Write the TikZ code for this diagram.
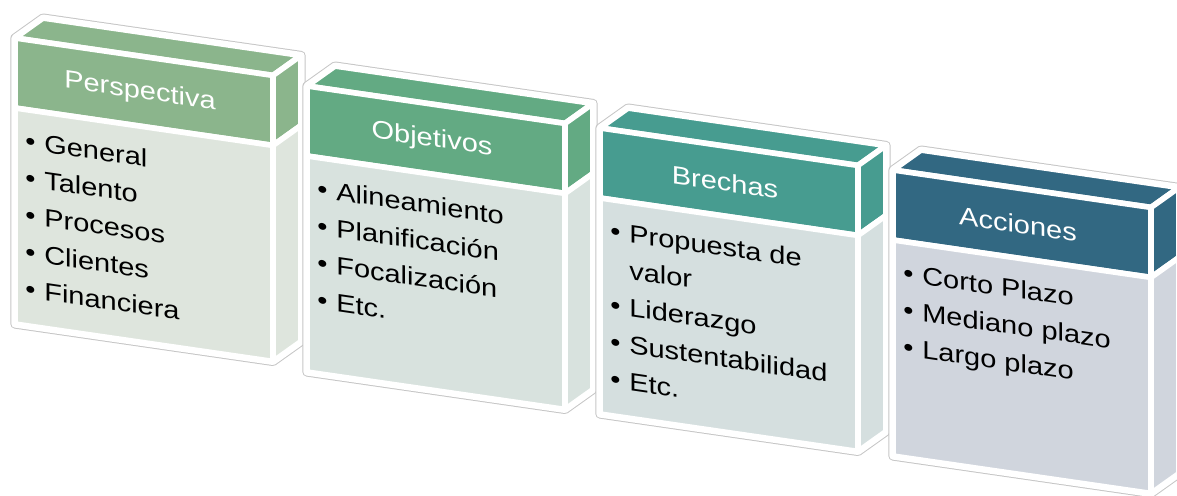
\documentclass[tikz,border=0pt]{standalone}
\usepackage{fontspec}
\setmainfont{Liberation Sans}
\definecolor{cabA}{RGB}{139,181,140}
\definecolor{cabB}{RGB}{99,170,131}
\definecolor{cabC}{RGB}{71,156,144}
\definecolor{cabD}{RGB}{50,104,130}
\definecolor{cueA}{RGB}{222,229,221}
\definecolor{cueB}{RGB}{216,226,222}
\definecolor{cueC}{RGB}{213,223,223}
\definecolor{cueD}{RGB}{208,213,221}
\tikzset{
  every picture/.style={line join=round},
  marco/.style={shift={#1}, yslant=-0.145},
  cara/.style={draw=white, line width=2.8pt},
  titulo/.style={text=white, font=\fontsize{12.6}{15}\selectfont, xscale=1.15, transform shape},
  punto/.style={anchor=base west, inner sep=0pt, text height=6pt, text depth=0pt,
    font=\fontsize{12.6}{15}\selectfont, xscale=1.15, transform shape},
}
\newcommand{\vi}{\makebox[8.2pt][l]{\textbullet}}
\newcommand{\sv}{\hspace*{8.2pt}}
% caja 3D: #1 posicion, #2 cabecera, #3 cuerpo
\newcommand{\caja}[3]{%
  \begin{scope}[marco={#1}]
    \draw[gray!45, line width=4.6pt] (0,286) -- (0,0) -- (28,-24) -- (286,-24) -- (286,262) -- (258,286) -- cycle;
    \draw[white, line width=3.6pt] (0,286) -- (0,0) -- (28,-24) -- (286,-24) -- (286,262) -- (258,286) -- cycle;
    \filldraw[cara, fill=#2] (0,0) -- (258,0) -- (286,-24) -- (28,-24) -- cycle;
    \filldraw[cara, fill=#2] (0,0) rectangle (258,70);
    \filldraw[cara, fill=#2] (258,0) -- (286,-24) -- (286,46) -- (258,70) -- cycle;
    \filldraw[cara, fill=#3] (0,70) rectangle (258,286);
    \filldraw[cara, fill=#3] (258,70) -- (286,46) -- (286,262) -- (258,286) -- cycle;
  \end{scope}}

\begin{document}
\begin{tikzpicture}[x=0.5pt, y=-0.5pt]
    \useasboundingbox (0,0) rectangle (1177,495);
    \clip (0,0) rectangle (1177,495);
    % Perspectiva
    \caja{(15,38)}{cabA}{cueA}
    \begin{scope}[marco={(15,38)}]
        \node[titulo] (persp) at (125,36) {Perspectiva};
        \foreach \t [count=\i] in {General,Talento,Procesos,Clientes,Financiera}
            \node[punto] (persp\i) at (10,110+37*\i-37) {\vi\t};
    \end{scope}
    % Objetivos
    \caja{(307,86)}{cabB}{cueB}
    \begin{scope}[marco={(307,86)}]
        \node[titulo] (obj) at (125,36) {Objetivos};
        \foreach \t [count=\i] in {Alineamiento,Planificación,Focalización,Etc.}
            \node[punto] (obj\i) at (10,110+37*\i-37) {\vi\t};
    \end{scope}
    % Brechas
    \caja{(600,128)}{cabC}{cueC}
    \begin{scope}[marco={(600,128)}]
        \node[titulo] (brecha) at (125,36) {Brechas};
        \foreach \t [count=\i] in {\vi Propuesta de,\sv valor,\vi Liderazgo,\vi Sustentabilidad,\vi Etc.}
            \node[punto] (brecha\i) at (10,110+37*\i-37) {\t};
    \end{scope}
    % Acciones
    \caja{(893,170)}{cabD}{cueD}
    \begin{scope}[marco={(893,170)}]
        \node[titulo] (acc) at (125,36) {Acciones};
        \foreach \t [count=\i] in {Corto Plazo,Mediano plazo,Largo plazo}
            \node[punto] (acc\i) at (10,110+37*\i-37) {\vi\t};
    \end{scope}
\end{tikzpicture}
\end{document}
